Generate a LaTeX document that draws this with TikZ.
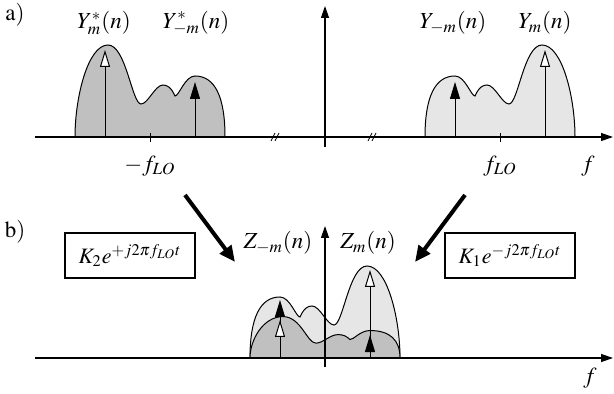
\documentclass[tikz,border=0pt]{standalone}
\usepackage{mathptmx}
\usetikzlibrary{arrows.meta}
\definecolor{specDark}{HTML}{C0C0C0}
\definecolor{specLight}{HTML}{E6E6E6}

\begin{document}
\begin{tikzpicture}[
    x=0.5pt, y=-0.5pt,
    every node/.style={font=\fontsize{11.5}{13}\selectfont, inner sep=1pt},
    axis/.style={line width=0.6pt, -{Triangle[length=6pt,width=4pt]}},
    gainbox/.style={rectangle, draw, line width=0.6pt, minimum width=65pt, minimum height=22.5pt,
                    font=\fontsize{11}{13}\selectfont},
    blackline/.style={line width=0.5pt, -{Triangle[length=8.5pt,width=5pt]}},
    whiteline/.style={line width=0.5pt, -{Triangle[length=8.5pt,width=5pt,fill=white]}},
    bigarrow/.style={line width=2pt, -{Triangle[length=8pt,width=7pt]}},
    spectrum/.pic={
        \draw[pic actions, line width=0.5pt] (-75,0) .. controls (-75,-40) and (-65,-61) .. (-45,-61)
            .. controls (-35,-61) and (-29,-41) .. (-25,-41)
            .. controls (-21,-50) and (-17,-52) .. (-13,-52)
            .. controls (-5,-52) and (2,-33) .. (9,-33)
            .. controls (18,-33) and (24,-92) .. (42,-92)
            .. controls (62,-92) and (75,-40) .. (75,0) -- cycle;
    }
]
\useasboundingbox (0,0) rectangle (614,394);

% a) input spectrum
\pic[fill=specDark, xscale=-1] at (150,137) {spectrum};
\pic[fill=specLight] at (500,137) {spectrum};
\draw[axis] (35,137) -- (613,137);
\draw[axis] (325,147) -- (325,6);
\draw (150,133) -- (150,142);
\draw (500,133) -- (500,142);
\draw (271,141) -- (275,133) (275,141) -- (279,133);
\draw (368,141) -- (372,133) (372,141) -- (376,133);

\draw[whiteline] (105,137) -- (105,50);
\draw[blackline] (195,137) -- (195,82);
\draw[blackline] (455,137) -- (455,82);
\draw[whiteline] (545,137) -- (545,50);

\node (lbla) at (15,15) {$\mathrm{a)}$};
\node (ymconj) at (104,23) {$Y^*_m(n)$};
\node (ymmconj) at (196,23) {$Y^*_{-m}(n)$};
\node (ymm) at (453,23) {$Y_{-m}(n)$};
\node (ym) at (545,23) {$Y_m(n)$};
\node (mflo) at (150,166) {$-f_{LO}$};
\node (flo) at (500,166) {$f_{LO}$};
\node (fa) at (588,166) {$f$};

% mixing
\coordinate (lin) at (185,195);
\coordinate (lout) at (235,262);
\coordinate (rin) at (465,195);
\coordinate (rout) at (415,262);
\draw[bigarrow] (lin) -- (lout);
\draw[bigarrow] (rin) -- (rout);
\node[gainbox] (k2) at (130,255.5) {$K_2e^{+j2\pi f_{LO}t}$};
\node[gainbox] (k1) at (510,255.5) {$K_1e^{-j2\pi f_{LO}t}$};

% b) output spectrum
\pic[fill=specLight] at (325,358) {spectrum};
\pic[fill=specDark, xscale=-1, yscale=0.45] at (325,358) {spectrum};
\draw[axis] (35,358) -- (613,358);
\draw[axis] (325,367) -- (325,226);

\draw[blackline] (280,358) -- (280,300);
\draw[whiteline] (280,358) -- (280,320);
\draw[whiteline] (370,358) -- (370,270);
\draw[blackline] (370,358) -- (370,335);

\node (lblb) at (15,232) {$\mathrm{b)}$};
\node (zmm) at (278,243) {$Z_{-m}(n)$};
\node (zm) at (368,243) {$Z_m(n)$};
\node (fb) at (590,378) {$f$};
\end{tikzpicture}
\end{document}
